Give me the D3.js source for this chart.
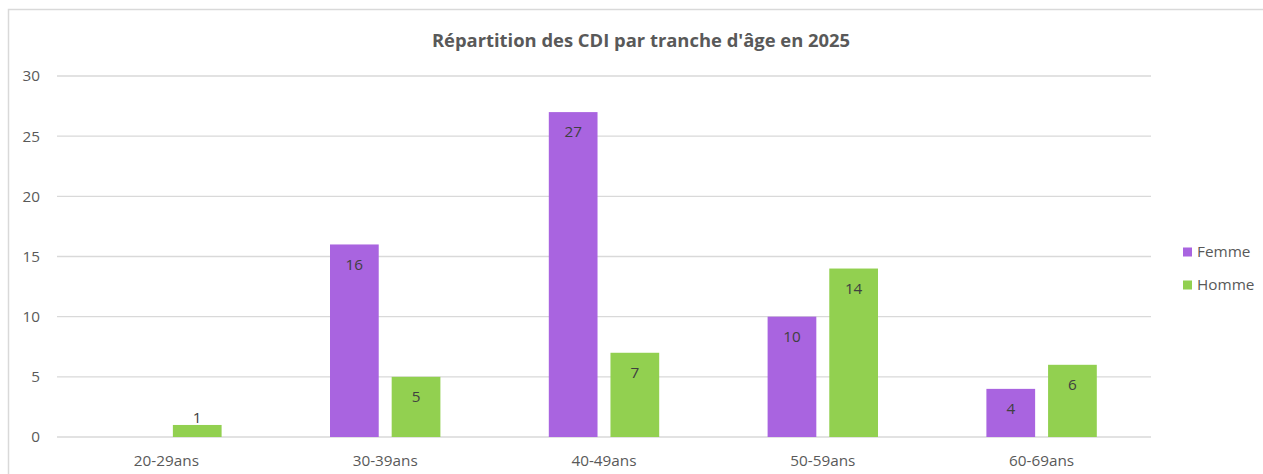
<!DOCTYPE html>
<html><head><meta charset="utf-8">
<script src="https://cdn.jsdelivr.net/npm/d3@7"></script>
<style>body{margin:0;background:#fff;}svg{display:block;font-family:"Open Sans",sans-serif;}</style>
</head><body><svg id="c" width="1263" height="474"></svg>
<script>
const categories = ["20-29ans","30-39ans","40-49ans","50-59ans","60-69ans"];
const seriesNames = ["Femme","Homme"];
const femme = [null,16,27,10,4];
const homme = [1,5,7,14,6];
const yTicks = [0,5,10,15,20,25,30];
const colors = ["#a964e0","#92d050"];
const title = "Répartition des CDI par tranche d'âge en 2025";

(function(){
const svg = d3.select("#c");
const pLeft = 57, pRight = 1151, pTop = 76, pBottom = 437;
const fs = 15.3;
// frame
svg.append("path").attr("d",`M8.5,474 V9.5 H1263`).attr("fill","none").attr("stroke","#d9d9d9").attr("stroke-width",1.5);

const x0 = d3.scaleBand().domain(categories).range([pLeft,pRight]);
const x1 = d3.scaleBand().domain(seriesNames).range([0,110.4]).paddingInner(0.21);
const y = d3.scaleLinear().domain([0,30]).range([pBottom,pTop]);

// grid
svg.append("g").selectAll("line").data(yTicks).join("line")
  .attr("x1",pLeft).attr("x2",pRight).attr("y1",d=>y(d)).attr("y2",d=>y(d))
  .attr("stroke","#d9d9d9").attr("stroke-width",1.3);

// y labels
svg.append("g").selectAll("text").data(yTicks).join("text")
  .attr("x",40).attr("y",d=>y(d)).attr("dy","0.35em").attr("text-anchor","end")
  .attr("font-size",fs).attr("fill","#595959").text(d=>d);

// x labels
svg.append("g").selectAll("text").data(categories).join("text")
  .attr("x",d=>x0(d)+x0.bandwidth()/2).attr("y",461).attr("dy","0.35em").attr("text-anchor","middle")
  .attr("font-size",fs).attr("fill","#595959").text(d=>d);

const data = [femme, homme];
seriesNames.forEach((s,si)=>{
  const vals = categories.map((c,i)=>({c, v:data[si][i]})).filter(d=>d.v!=null);
  const g = svg.append("g");
  g.selectAll("rect").data(vals).join("rect")
    .attr("x",d=>x0(d.c)+x0.bandwidth()/2-55.2+x1(s))
    .attr("width",x1.bandwidth())
    .attr("y",d=>y(d.v)).attr("height",d=>y(0)-y(d.v))
    .attr("fill",colors[si]);
  g.selectAll("text").data(vals).join("text")
    .attr("x",d=>x0(d.c)+x0.bandwidth()/2-55.2+x1(s)+x1.bandwidth()/2)
    .attr("y",d=> (y(0)-y(d.v))<25 ? y(d.v)-7 : y(d.v)+20)
    .attr("dy","0.35em")
    .attr("text-anchor","middle").attr("font-size",fs).attr("fill","#404040").text(d=>d.v);
});

svg.append("text").attr("x",641).attr("y",41).attr("dy","0.35em").attr("text-anchor","middle")
  .attr("font-size",18.4).attr("font-weight","bold").attr("fill","#595959").text(title);

// legend
const lg = svg.append("g").selectAll("g").data(seriesNames).join("g")
  .attr("transform",(d,i)=>`translate(1183,${252+i*33})`);
lg.append("rect").attr("x",0).attr("y",-4.5).attr("width",9).attr("height",9).attr("fill",(d,i)=>colors[i]);
lg.append("text").attr("x",14).attr("y",0).attr("dy","0.35em").attr("font-size",fs).attr("fill","#595959").text(d=>d);
})();
</script></body></html>
